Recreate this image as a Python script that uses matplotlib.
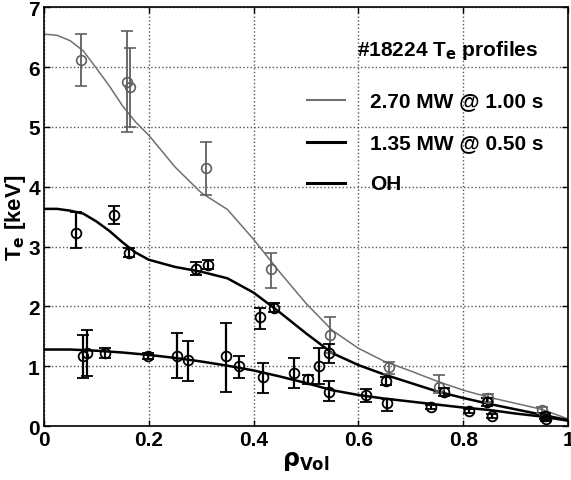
import numpy as np
import matplotlib
matplotlib.use('Agg')
import matplotlib.pyplot as plt

plt.rcParams['font.family'] = ['Liberation Sans', 'DejaVu Sans']
plt.rcParams['font.weight'] = 'bold'
plt.rcParams['mathtext.default'] = 'bf'

# fit curves
rho_fit = [0, 0.025, 0.05, 0.075, 0.1, 0.125, 0.15, 0.175, 0.2, 0.25, 0.3, 0.35,
           0.4, 0.45, 0.5, 0.55, 0.6, 0.65, 0.7, 0.75, 0.8, 0.85, 0.9, 0.95, 1.0]
fit_hi = [6.55, 6.53, 6.44, 6.27, 5.98, 5.68, 5.35, 5.08, 4.86, 4.33, 3.9, 3.62,
          3.12, 2.57, 2.05, 1.6, 1.3, 1.08, 0.92, 0.75, 0.6, 0.48, 0.38, 0.28, 0.12]
fit_md = [3.63, 3.63, 3.6, 3.55, 3.42, 3.26, 3.07, 2.9, 2.78, 2.66, 2.58, 2.47,
          2.23, 1.9, 1.55, 1.22, 1.02, 0.86, 0.72, 0.58, 0.47, 0.37, 0.28, 0.19, 0.1]
fit_oh = [1.28, 1.28, 1.28, 1.27, 1.26, 1.245, 1.23, 1.21, 1.19, 1.14, 1.08, 1.01,
          0.93, 0.83, 0.72, 0.6, 0.52, 0.46, 0.41, 0.36, 0.31, 0.27, 0.21, 0.16, 0.09]

# measured points, 2.70 MW
x_hi = [0.07, 0.158, 0.165, 0.31, 0.434, 0.545, 0.659, 0.754, 0.848, 0.95]
y_hi = [6.12, 5.75, 5.66, 4.32, 2.63, 1.53, 0.98, 0.65, 0.47, 0.27]
lo_hi = [5.68, 4.92, 5.0, 3.87, 2.3, 1.22, 0.87, 0.55, 0.4, 0.22]
up_hi = [6.55, 6.6, 6.32, 4.75, 2.9, 1.83, 1.07, 0.85, 0.53, 0.32]

# 1.35 MW
x_md = [0.061, 0.133, 0.163, 0.29, 0.313, 0.413, 0.438, 0.543, 0.653, 0.764, 0.846, 0.955]
y_md = [3.23, 3.52, 2.9, 2.63, 2.7, 1.82, 1.98, 1.23, 0.75, 0.57, 0.4, 0.17]
lo_md = [2.97, 3.38, 2.83, 2.52, 2.62, 1.62, 1.9, 1.05, 0.68, 0.5, 0.33, 0.12]
up_md = [3.57, 3.68, 2.97, 2.75, 2.78, 1.98, 2.05, 1.37, 0.82, 0.64, 0.47, 0.22]

# OH
x_oh = [0.075, 0.083, 0.116, 0.199, 0.254, 0.275, 0.347, 0.372, 0.418, 0.477,
        0.503, 0.524, 0.543, 0.615, 0.655, 0.739, 0.811, 0.855, 0.958]
y_oh = [1.17, 1.23, 1.22, 1.17, 1.17, 1.1, 1.17, 1.0, 0.82, 0.88,
        0.78, 1.0, 0.57, 0.52, 0.38, 0.32, 0.25, 0.17, 0.12]
lo_oh = [0.8, 0.83, 1.13, 1.12, 0.8, 0.76, 0.57, 0.8, 0.55, 0.63,
         0.7, 0.7, 0.42, 0.4, 0.25, 0.28, 0.22, 0.13, 0.09]
up_oh = [1.52, 1.6, 1.3, 1.22, 1.55, 1.42, 1.73, 1.17, 1.05, 1.13,
         0.85, 1.3, 0.75, 0.62, 0.45, 0.36, 0.28, 0.21, 0.15]

labels = ['2.70 MW @ 1.00 s', '1.35 MW @ 0.50 s', 'OH']

fig = plt.figure(figsize=(5.71, 4.81), dpi=100)
ax = fig.add_axes([0.077, 0.112, 0.918, 0.871])

def errs(y, lo, up):
    y = np.array(y)
    return [y - np.array(lo), np.array(up) - y]

ax.plot(rho_fit, fit_hi, color='#707070', lw=1.1)
ax.plot(rho_fit, fit_md, color='black', lw=1.8)
ax.plot(rho_fit, fit_oh, color='black', lw=1.8)

ax.errorbar(x_hi, y_hi, yerr=errs(y_hi, lo_hi, up_hi), fmt='o', mfc='none',
            mec='#606060', ecolor='#606060', ms=7, capsize=4, elinewidth=1.3, mew=1.2)
ax.errorbar(x_md, y_md, yerr=errs(y_md, lo_md, up_md), fmt='o', mfc='none',
            mec='black', ecolor='black', ms=7, capsize=4, elinewidth=1.6, mew=1.3)
ax.errorbar(x_oh, y_oh, yerr=errs(y_oh, lo_oh, up_oh), fmt='o', mfc='none',
            mec='black', ecolor='black', ms=7, capsize=4, elinewidth=1.6, mew=1.3)

ax.set_xlim(0, 1)
ax.set_ylim(0, 7)
ax.set_xticks([0, 0.2, 0.4, 0.6, 0.8, 1])
ax.set_xticklabels(['0', '0.2', '0.4', '0.6', '0.8', '1'])
ax.set_yticks(range(8))
ax.tick_params(direction='in', top=True, right=True, labelsize=15, width=1, length=4, pad=3)
ax.grid(True, linestyle=':', color='#555555', lw=1)
for s in ax.spines.values():
    s.set_linewidth(1.2)

ax.set_xlabel(r'$\rho_{\mathbf{Vol}}$', fontsize=17, labelpad=0)
ax.set_ylabel(r'T$_\mathbf{e}$ [keV]', fontsize=16, fontweight='bold', labelpad=0)

# legend block
ax.text(0.943, 0.90, r'#18224 T$_\mathbf{e}$ profiles', transform=ax.transAxes,
        ha='right', va='center', fontsize=15, fontweight='bold')
leg_y = [0.778, 0.678, 0.58]
leg_c = ['#707070', 'black', 'black']
leg_w = [1.5, 2.2, 2.2]
for yy, lab, c, w in zip(leg_y, labels, leg_c, leg_w):
    ax.plot([0.502, 0.574], [yy, yy], color=c, lw=w, transform=ax.transAxes)
    ax.text(0.622, yy, lab, transform=ax.transAxes, ha='left', va='center',
            fontsize=15, fontweight='bold')

fig.savefig('out.png', dpi=100)
